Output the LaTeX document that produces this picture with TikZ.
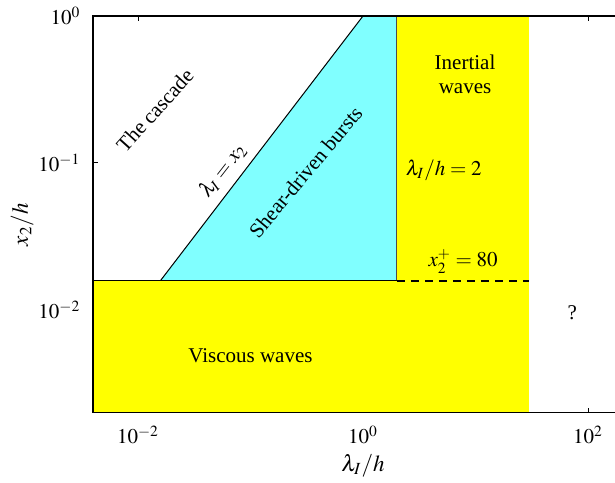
\documentclass[tikz,border=0pt]{standalone}
\usepackage{mathptmx}
\usepackage{fontspec}
\setmainfont{Liberation Serif}
\usetikzlibrary{positioning}
\definecolor{burstcyan}{RGB}{128,255,255}
\definecolor{wavey}{RGB}{255,255,0}

\begin{document}
\begin{tikzpicture}[
  x=56.25pt, y=73.5pt,
  every node/.style={font=\fontsize{10.5}{12}\selectfont},
  region/.style={draw=none},
  border/.style={line width=0.6pt},
  tick/.style={line width=0.5pt},
  label text/.style={inner sep=1pt, align=center}
]
  \useasboundingbox (-3.227,0.1088) rectangle (2.24,-3.177);
  \clip (-3.227,0.1088) rectangle (2.24,-3.177);

  % ticks (under the fills)
  \foreach \t in {-2,0,2} {
    \draw[tick] (\t,0) -- ++(0,-0.035);
    \draw[tick] (\t,-2.7) -- ++(0,0.035);
  }
  \foreach \t in {0,-1,-2}
    \draw[tick] (-2.4,\t) -- ++(0.045,0);

  % regions
  \fill[region, wavey] (-2.4,-1.8) rectangle (1.477,-2.7);
  \fill[region, wavey] (0.301,0) rectangle (1.477,-1.8);
  \fill[region, burstcyan] (-1.8,-1.8) -- (0,0) -- (0.301,0) -- (0.301,-1.8) -- cycle;

  % boundaries
  \coordinate (c0) at (-1.8,-1.8);
  \coordinate (c1) at (0,0);
  \coordinate (v0) at (0.301,-1.8);
  \coordinate (v1) at (0.301,0);
  \coordinate (h0) at (-2.4,-1.8);
  \coordinate (h1) at (1.477,-1.8);
  \draw[line width=0.5pt] (c0) -- (c1);
  \draw[line width=0.5pt, black!70] (v0) -- (v1);
  \draw[line width=0.5pt] (h0) -- (v0);
  \draw[line width=1pt, dash pattern=on 4pt off 3pt] (v0) -- (h1);

  % frame
  \draw[border] (3,0) -- (-2.4,0) -- (-2.4,-2.7) -- (3,-2.7);

  % region labels
  \node[label text, rotate=48] (cascade) at (-1.85,-0.64) {The cascade};
  \node[label text, rotate=52] (diag) at (-1.25,-1.05) {$\lambda_I = x_2$};
  \node[label text, rotate=50] (bursts) at (-0.51,-1.06) {Shear-driven bursts};
  \node[label text] (inertial) at (0.907,-0.40) {Inertial\\waves};
  \node[label text, anchor=west] (lam2) at (0.36,-1.048) {$\lambda_I/h = 2$};
  \node[label text] (xplus) at (0.89,-1.67) {$x_2^+ = 80$};
  \node[label text] (unknown) at (1.86,-2.02) {?};
  \node[label text] (viscous) at (-1.0,-2.31) {Viscous waves};

  % tick labels
  \node[anchor=east] (y0) at (-2.45,0) {$10^{0}$};
  \node[anchor=east] (y1) at (-2.45,-1) {$10^{-1}$};
  \node[anchor=east] (y2) at (-2.45,-2) {$10^{-2}$};
  \node (xm2) at (-2,-2.85) {$10^{-2}$};
  \node (x0) at (0,-2.85) {$10^{0}$};
  \node (x2) at (2,-2.85) {$10^{2}$};

  % axis labels
  \node[font=\fontsize{11.5}{13}\selectfont] (xlab) at (0,-3.06) {$\lambda_I/h$};
  \node[font=\fontsize{11.5}{13}\selectfont, rotate=90] (ylab) at (-3.03,-1.42) {$x_2/h$};
\end{tikzpicture}
\end{document}
